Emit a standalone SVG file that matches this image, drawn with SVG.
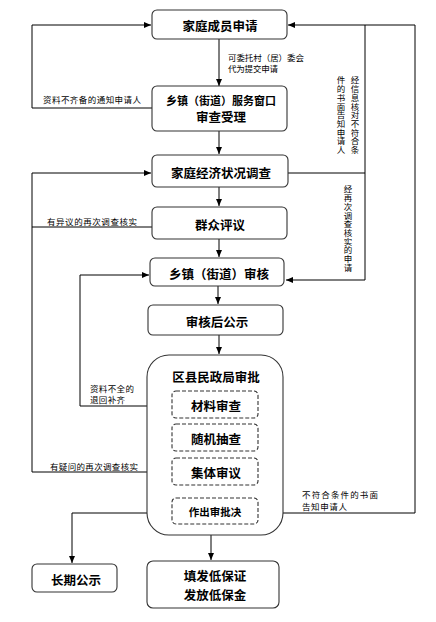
<svg xmlns="http://www.w3.org/2000/svg" width="436" height="622" viewBox="0 0 436 622">
<defs>
<marker id="ah" markerUnits="userSpaceOnUse" markerWidth="8" markerHeight="8" refX="7" refY="3" orient="auto"><path d="M0,0 L7,3 L0,6 z" fill="#000"/></marker>
<style>
.box{fill:#fff;stroke:#333;stroke-width:1.1}
.dash{fill:#fff;stroke:#333;stroke-width:1.1;stroke-dasharray:4,2}
.t{font-family:"Noto Sans CJK SC","Liberation Sans",sans-serif;font-weight:bold;font-size:12.5px;text-anchor:middle;dominant-baseline:central;fill:#000}
.s{font-family:"Noto Sans CJK SC","Liberation Sans",sans-serif;font-size:8.5px;fill:#000}
.v{font-family:"Noto Sans CJK SC","Liberation Sans",sans-serif;font-size:8.5px;fill:#000;writing-mode:vertical-rl;letter-spacing:0.2px}
.c{fill:none;stroke:#000;stroke-width:1}
</style>
</defs>
<rect width="436" height="622" fill="#fff"/>
<g id="connectors">
<path class="c" d="M219,39 V86" marker-end="url(#ah)"/>
<path class="c" d="M152,108 H32 V25 H151" marker-end="url(#ah)"/>
<path class="c" d="M258,513 H415 V25 H288" marker-end="url(#ah)"/>
<path class="c" d="M365,25 V173"/>
<path class="c" d="M288,173 H365 V280 H286" marker-end="url(#ah)"/>
<path class="c" d="M219,131 V154" marker-end="url(#ah)"/>
<path class="c" d="M219,187 V206" marker-end="url(#ah)"/>
<path class="c" d="M219,239 V257" marker-end="url(#ah)"/>
<path class="c" d="M218,286 V304" marker-end="url(#ah)"/>
<path class="c" d="M219,335 V354" marker-end="url(#ah)"/>
<path class="c" d="M172,472 H32 V173 H151" marker-end="url(#ah)"/>
<path class="c" d="M152,227 H32"/>
<path class="c" d="M172,406 H80 V275 H149" marker-end="url(#ah)"/>
<path class="c" d="M172,513 H72 V563" marker-end="url(#ah)"/>
<path class="c" d="M211,535 V560" marker-end="url(#ah)"/>
<text class="s" x="228" y="61" textLength="76">可委托村（居）委会</text>
<text class="s" x="228" y="72" textLength="50">代为提交申请</text>
<text class="s" x="43" y="103" textLength="98">资料不齐备的通知申请人</text>
<text class="s" x="47" y="225" textLength="90">有异议的再次调查核实</text>
<text class="s" x="50" y="470" textLength="88">有疑问的再次调查核实</text>
<text class="s" x="90" y="392" textLength="44">资料不全的</text>
<text class="s" x="90" y="403" textLength="35">退回补齐</text>
<text class="s" x="302" y="498" textLength="76">不符合条件的书面</text>
<text class="s" x="302" y="510" textLength="45">告知申请人</text>
<text class="v" x="355" y="76">经信息核对不符合条</text>
<text class="v" x="341" y="76">件的书面告知申请人</text>
<text class="v" x="348" y="185">经再次调查核实的申请</text>
</g>
<g id="n1"><rect class="box" x="152" y="10" width="135" height="29" rx="5"/><text class="t" x="220" y="25">家庭成员申请</text></g>
<g id="n2"><rect class="box" x="152" y="86" width="135" height="45" rx="5"/><text class="t" x="221" y="100" style="font-size:11px">乡镇（街道）服务窗口</text><text class="t" x="221" y="116">审查受理</text></g>
<g id="n3"><rect class="box" x="152" y="155" width="136" height="32" rx="5"/><text class="t" x="221" y="172">家庭经济状况调查</text></g>
<g id="n4"><rect class="box" x="152" y="207" width="135" height="32" rx="5"/><text class="t" x="220" y="224">群众评议</text></g>
<g id="n5"><rect class="box" x="150" y="258" width="134" height="28" rx="5"/><text class="t" x="219" y="273">乡镇（街道）审核</text></g>
<g id="n6"><rect class="box" x="148" y="305" width="135" height="30" rx="5"/><text class="t" x="217" y="321">审核后公示</text></g>
<g id="n7"><rect class="box" x="147" y="355" width="136" height="180" rx="22"/><text class="t" x="216" y="376">区县民政局审批</text></g>
<g id="n8"><rect class="dash" x="172" y="391" width="86" height="27" rx="4"/><text class="t" x="216" y="405">材料审查</text></g>
<g id="n9"><rect class="dash" x="172" y="424" width="86" height="27" rx="4"/><text class="t" x="216" y="438">随机抽查</text></g>
<g id="n10"><rect class="dash" x="172" y="458" width="86" height="27" rx="4"/><text class="t" x="216" y="472">集体审议</text></g>
<g id="n11"><rect class="dash" x="172" y="498" width="86" height="26" rx="4"/><text class="t" x="215" y="511" style="font-size:10.5px">作出审批决</text></g>
<g id="n12"><rect class="box" x="32" y="564" width="85" height="28" rx="5"/><text class="t" x="76" y="579">长期公示</text></g>
<g id="n13"><rect class="box" x="147" y="561" width="132" height="47" rx="6"/><text class="t" x="215" y="575">填发低保证</text><text class="t" x="215" y="594">发放低保金</text></g>
</svg>
